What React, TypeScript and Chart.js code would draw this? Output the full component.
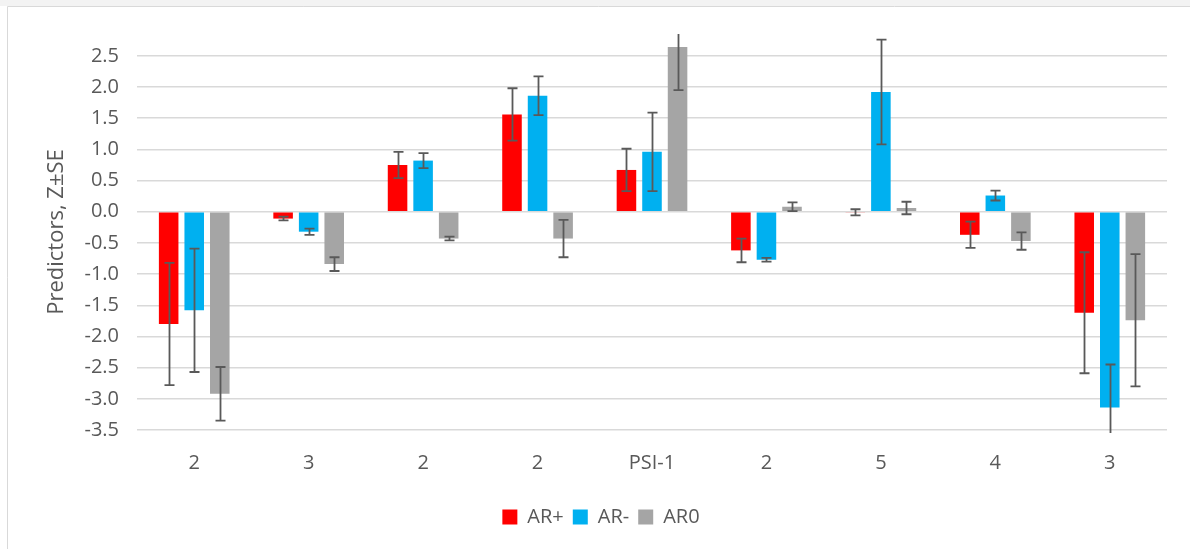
import React, { useEffect, useRef } from "react";
import { Chart, registerables } from "chart.js";

Chart.register(...registerables);

// Predictor groups along the x axis
const categories = ["2", "3", "2", "2", "PSI-1", "2", "5", "4", "3"];

// Z scores per group and their standard errors
const arPlus = [-1.8, -0.11, 0.75, 1.56, 0.67, -0.62, -0.01, -0.37, -1.62];
const arPlusSE = [0.98, 0.03, 0.21, 0.42, 0.34, 0.19, 0.05, 0.21, 0.97];

const arMinus = [-1.58, -0.32, 0.82, 1.86, 0.96, -0.77, 1.92, 0.26, -3.14];
const arMinusSE = [0.99, 0.05, 0.12, 0.31, 0.63, 0.03, 0.84, 0.08, 0.69];

const ar0 = [-2.92, -0.84, -0.43, -0.43, 2.64, 0.08, 0.06, -0.47, -1.74];
const ar0SE = [0.43, 0.11, 0.03, 0.3, 0.69, 0.07, 0.1, 0.14, 1.06];

// Value axis tick labels
const yTicks = [-3.5, -3.0, -2.5, -2.0, -1.5, -1.0, -0.5, 0.0, 0.5, 1.0, 1.5, 2.0, 2.5];
const yMin = -3.5;
const yMax = 2.85;

const TEXT = "#595959";
const FONT = "'Open Sans', 'Liberation Sans', sans-serif";

// Draws ±SE whiskers on every bar, clipped to the plot area
const errorBars = {
  id: "errorBars",
  afterDatasetsDraw(chart: any) {
    const { ctx, chartArea, scales } = chart;
    const y = scales.y;
    ctx.save();
    ctx.beginPath();
    ctx.rect(chartArea.left, chartArea.top, chartArea.right - chartArea.left, chartArea.bottom - chartArea.top + 3);
    ctx.clip();
    ctx.strokeStyle = "#595959";
    ctx.lineWidth = 1.8;
    chart.data.datasets.forEach((ds: any, i: number) => {
      const meta = chart.getDatasetMeta(i);
      if (meta.hidden) return;
      meta.data.forEach((el: any, j: number) => {
        const v = ds.data[j];
        const e = ds.errors[j];
        const yHi = y.getPixelForValue(v + e);
        const yLo = y.getPixelForValue(v - e);
        const x = Math.round(el.x) + 0.5;
        const cap = 5;
        ctx.beginPath();
        ctx.moveTo(x, yHi);
        ctx.lineTo(x, yLo);
        ctx.moveTo(x - cap, yHi);
        ctx.lineTo(x + cap, yHi);
        ctx.moveTo(x - cap, yLo);
        ctx.lineTo(x + cap, yLo);
        ctx.stroke();
      });
    });
    ctx.restore();
  },
};

// Chart frame: white background, light top strip and border
const frame = {
  id: "frame",
  beforeDraw(chart: any) {
    const { ctx, width, height } = chart;
    ctx.save();
    ctx.fillStyle = "#ffffff";
    ctx.fillRect(0, 0, width, height);
    ctx.fillStyle = "#f3f3f3";
    ctx.fillRect(0, 0, width, 6);
    ctx.strokeStyle = "#d9d9d9";
    ctx.lineWidth = 1;
    ctx.beginPath();
    ctx.moveTo(7.5, height);
    ctx.lineTo(7.5, 6.5);
    ctx.lineTo(width, 6.5);
    ctx.stroke();
    ctx.restore();
  },
};

export default function App() {
  const ref = useRef<HTMLCanvasElement | null>(null);

  useEffect(() => {
    if (!ref.current) return;
    const chart = new Chart(ref.current, {
      type: "bar",
      data: {
        labels: categories,
        datasets: [
          { label: "AR+", data: arPlus, errors: arPlusSE, backgroundColor: "#ff0000" } as any,
          { label: "AR-", data: arMinus, errors: arMinusSE, backgroundColor: "#00b0f0" } as any,
          { label: "AR0", data: ar0, errors: ar0SE, backgroundColor: "#a5a5a5" } as any,
        ],
      },
      options: {
        responsive: false,
        animation: false,
        devicePixelRatio: 1,
        datasets: {
          bar: { categoryPercentage: 0.67, barPercentage: 0.765 },
        },
        layout: { padding: { left: 12, right: 0, top: 34, bottom: 12 } },
        plugins: {
          tooltip: { enabled: false },
          legend: {
            position: "bottom",
            labels: {
              boxWidth: 15,
              boxHeight: 15,
              padding: 9,
              color: TEXT,
              font: { family: FONT, size: 20 },
            },
          },
        },
        scales: {
          x: {
            grid: { display: false },
            border: { display: false },
            ticks: { color: TEXT, font: { family: FONT, size: 20 }, padding: 13 },
            afterFit(scale: any) {
              scale.height = 68;
            },
          },
          y: {
            min: yMin,
            max: yMax,
            grid: { color: "#d9d9d9", lineWidth: 1.5, drawTicks: false },
            border: { display: false },
            ticks: {
              color: TEXT,
              font: { family: FONT, size: 20 },
              padding: 18,
              callback: (v: any) => Number(v).toFixed(1),
            },
            afterBuildTicks(scale: any) {
              scale.ticks = yTicks.map((v) => ({ value: v }));
            },
            afterFit(scale: any) {
              scale.width = 125;
            },
            title: {
              display: true,
              text: "Predictors, Z±SE",
              color: TEXT,
              font: { family: FONT, size: 22 },
              padding: { top: 32, bottom: 0 },
            },
          },
          // empty right-hand margin beside the plot area
          yRight: {
            position: "right",
            display: true,
            grid: { display: false },
            border: { display: false },
            ticks: { display: false },
            afterFit(scale: any) {
              scale.width = 23;
            },
          },
        },
      } as any,
      plugins: [frame, errorBars],
    });
    return () => chart.destroy();
  }, []);

  return (
    <div style={{ position: "fixed", left: 0, top: 0, width: 1190, height: 549 }}>
      <canvas ref={ref} width={1190} height={549} style={{ display: "block" }} />
    </div>
  );
}
